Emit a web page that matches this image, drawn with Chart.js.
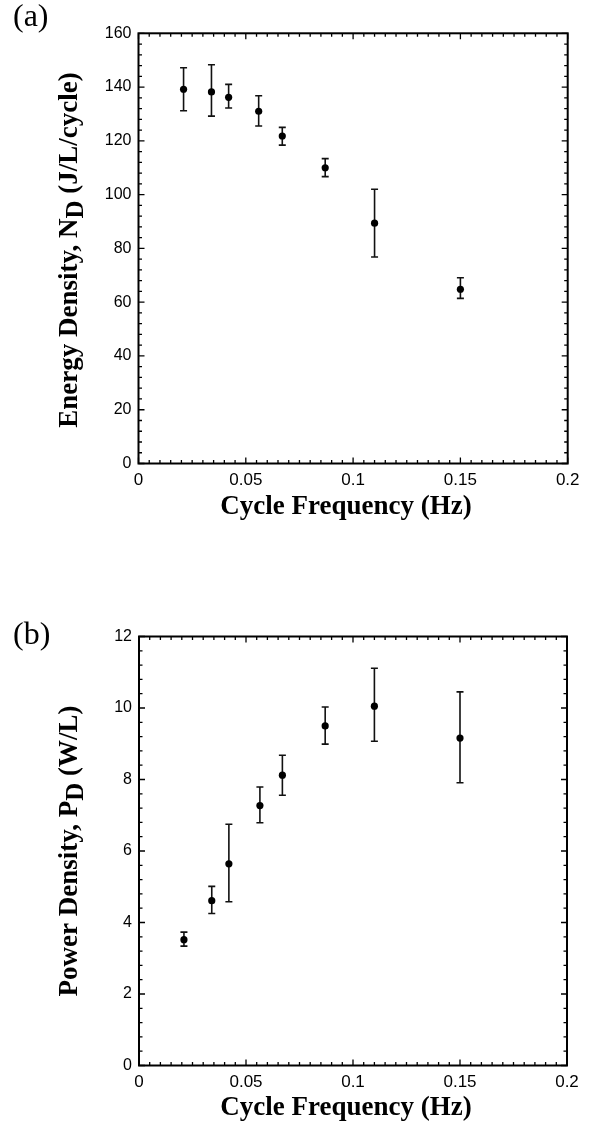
<!DOCTYPE html>
<html><head><meta charset="utf-8">
<script src="https://cdn.jsdelivr.net/npm/chart.js@4.4.1/dist/chart.umd.min.js"></script>
<style>
html,body{margin:0;padding:0;background:#fff;}
#w{position:relative;width:600px;height:1127px;overflow:hidden;}
canvas{position:absolute;left:0;}
</style></head><body>
<div id="w">
<canvas id="c1" width="600" height="560" style="top:0;width:600px;height:560px"></canvas>
<canvas id="c2" width="600" height="567" style="top:560px;width:600px;height:567px"></canvas>
</div>
<script>
// ---- data ----
const energyFreqHz = [0.021, 0.034, 0.042, 0.056, 0.067, 0.087, 0.110, 0.150];
const energyDensity = [139.2, 138.2, 136.2, 131.0, 121.8, 110.0, 89.4, 64.8];
const energyLow     = [131.2, 129.2, 132.2, 125.5, 118.4, 106.7, 76.8, 61.4];
const energyHigh    = [147.2, 148.3, 141.0, 136.8, 125.0, 113.4, 102.0, 69.1];

const powerFreqHz   = [0.021, 0.034, 0.042, 0.0565, 0.067, 0.087, 0.110, 0.150];
const powerDensity  = [3.52, 4.61, 5.64, 7.27, 8.12, 9.50, 10.05, 9.16];
const powerLow      = [3.34, 4.25, 4.58, 6.79, 7.56, 8.99, 9.07, 7.91];
const powerHigh     = [3.73, 5.01, 6.75, 7.79, 8.68, 10.03, 11.11, 10.45];

const xTickLabels = ['0', '0.05', '0.1', '0.15', '0.2'];
const energyTickLabels = ['0', '20', '40', '60', '80', '100', '120', '140', '160'];
const powerTickLabels = ['0', '2', '4', '6', '8', '10', '12'];

const xTitle = 'Cycle Frequency (Hz)';
const energyTitle = ['Energy Density, N', 'D', ' (J/L/cycle)'];
const powerTitle = ['Power Density, P', 'D', ' (W/L)'];

// ---- helpers ----
function makePlugin(cfg) {
  return {
    id: 'decor',
    beforeDatasetsDraw(chart) {
      const ctx = chart.ctx, xs = chart.scales.x, ys = chart.scales.y;
      ctx.save();
      ctx.strokeStyle = '#111';
      ctx.lineWidth = 1.6;
      cfg.xs.forEach((xv, i) => {
        const px = xs.getPixelForValue(xv);
        const pl = ys.getPixelForValue(cfg.lo[i]);
        const ph = ys.getPixelForValue(cfg.hi[i]);
        ctx.beginPath();
        ctx.moveTo(px, pl); ctx.lineTo(px, ph);
        ctx.moveTo(px - 3.5, pl); ctx.lineTo(px + 3.5, pl);
        ctx.moveTo(px - 3.5, ph); ctx.lineTo(px + 3.5, ph);
        ctx.stroke();
      });
      ctx.restore();
    },
    afterDraw(chart) {
      const ctx = chart.ctx, a = chart.chartArea;
      const xs = chart.scales.x, ys = chart.scales.y;
      ctx.save();
      // inward ticks
      ctx.strokeStyle = '#000';
      ctx.lineWidth = 1.3;
      const eps = 1e-9;
      for (let v = xs.min; v <= xs.max + eps; v += cfg.xMinor) {
        const major = Math.abs(v / cfg.xMajor - Math.round(v / cfg.xMajor)) < 1e-6;
        const len = major ? 6 : 3.5;
        const px = xs.getPixelForValue(v);
        ctx.beginPath();
        ctx.moveTo(px, a.bottom); ctx.lineTo(px, a.bottom - len);
        ctx.moveTo(px, a.top); ctx.lineTo(px, a.top + len);
        ctx.stroke();
      }
      for (let v = ys.min; v <= ys.max + eps; v += cfg.yMinor) {
        const major = Math.abs(v / cfg.yMajor - Math.round(v / cfg.yMajor)) < 1e-6;
        const len = major ? 6 : 3.5;
        const py = ys.getPixelForValue(v);
        ctx.beginPath();
        ctx.moveTo(a.left, py); ctx.lineTo(a.left + len, py);
        ctx.moveTo(a.right, py); ctx.lineTo(a.right - len, py);
        ctx.stroke();
      }
      // frame
      ctx.lineWidth = 2;
      ctx.strokeRect(a.left, a.top, a.right - a.left, a.bottom - a.top);
      // panel label
      ctx.fillStyle = '#000';
      ctx.textAlign = 'left';
      ctx.textBaseline = 'alphabetic';
      ctx.font = '32px "Liberation Serif", "Times New Roman", serif';
      ctx.fillText(cfg.panel, 13, cfg.panelY);
      // x title
      ctx.font = 'bold 27px "Liberation Serif", "Times New Roman", serif';
      ctx.textAlign = 'center';
      ctx.fillText(xTitle, cfg.xTitleX, cfg.xTitleY);
      // y title with subscript
      const mainFont = 'bold 27px "Liberation Serif", "Times New Roman", serif';
      const subFont = 'bold 25px "Liberation Serif", "Times New Roman", serif';
      ctx.font = mainFont; const w0 = ctx.measureText(cfg.yTitle[0]).width;
      ctx.font = subFont; const w1 = ctx.measureText(cfg.yTitle[1]).width;
      ctx.font = mainFont; const w2 = ctx.measureText(cfg.yTitle[2]).width;
      const total = w0 + w1 + w2;
      ctx.translate(cfg.yTitleX, cfg.yTitleCY);
      ctx.rotate(-Math.PI / 2);
      ctx.textAlign = 'left';
      let u = -total / 2;
      ctx.font = mainFont; ctx.fillText(cfg.yTitle[0], u, 0); u += w0;
      ctx.font = subFont; ctx.fillText(cfg.yTitle[1], u, 6); u += w1;
      ctx.font = mainFont; ctx.fillText(cfg.yTitle[2], u, 0);
      ctx.restore();
    }
  };
}

function makeChart(id, xsData, ysData, lo, hi, yMax, yStep, yLabels, opts) {
  const pts = xsData.map((x, i) => ({ x: x, y: ysData[i] }));
  return new Chart(document.getElementById(id), {
    type: 'scatter',
    data: { datasets: [{ data: pts, backgroundColor: '#000', borderColor: '#000',
      pointRadius: 3.6, pointHoverRadius: 3.6, borderWidth: 0 }] },
    options: {
      responsive: false, maintainAspectRatio: false, animation: false, devicePixelRatio: 1,
      layout: { padding: { left: 0, right: opts.padRight, top: opts.padTop, bottom: 0 } },
      plugins: { legend: { display: false }, tooltip: { enabled: false } },
      scales: {
        x: {
          type: 'linear', min: 0, max: 0.2,
          grid: { display: false, drawTicks: false },
          border: { display: false },
          ticks: { stepSize: 0.05, padding: 7, color: '#000', maxRotation: 0,
            font: { family: '"Liberation Sans", Arial, sans-serif', size: 17 },
            callback: (v, i) => xTickLabels[i] },
          afterFit: s => { s.height = opts.xHeight; }
        },
        y: {
          type: 'linear', min: 0, max: yMax,
          grid: { display: false, drawTicks: false },
          border: { display: false },
          ticks: { stepSize: yStep, padding: 7, color: '#000',
            font: { family: '"Liberation Sans", Arial, sans-serif', size: 16 },
            callback: (v, i) => yLabels[i] },
          afterFit: s => { s.width = opts.yWidth; }
        }
      }
    },
    plugins: [makePlugin(Object.assign({ xs: xsData, lo: lo, hi: hi }, opts))]
  });
}

makeChart('c1', energyFreqHz, energyDensity, energyLow, energyHigh, 160, 20, energyTickLabels, {
  padRight: 32.3, padTop: 33.3, xHeight: 96.5, yWidth: 138.5,
  xMinor: 0.005, xMajor: 0.05, yMinor: 4, yMajor: 20,
  panel: '(a)', panelY: 26, xTitleX: 346, xTitleY: 514,
  yTitle: energyTitle, yTitleX: 77, yTitleCY: 250
});
makeChart('c2', powerFreqHz, powerDensity, powerLow, powerHigh, 12, 2, powerTickLabels, {
  padRight: 33, padTop: 76.5, xHeight: 61.5, yWidth: 139,
  xMinor: 0.005, xMajor: 0.05, yMinor: 0.4, yMajor: 2,
  panel: '(b)', panelY: 84, xTitleX: 346, xTitleY: 555,
  yTitle: powerTitle, yTitleX: 77, yTitleCY: 291
});
</script>
</body></html>
